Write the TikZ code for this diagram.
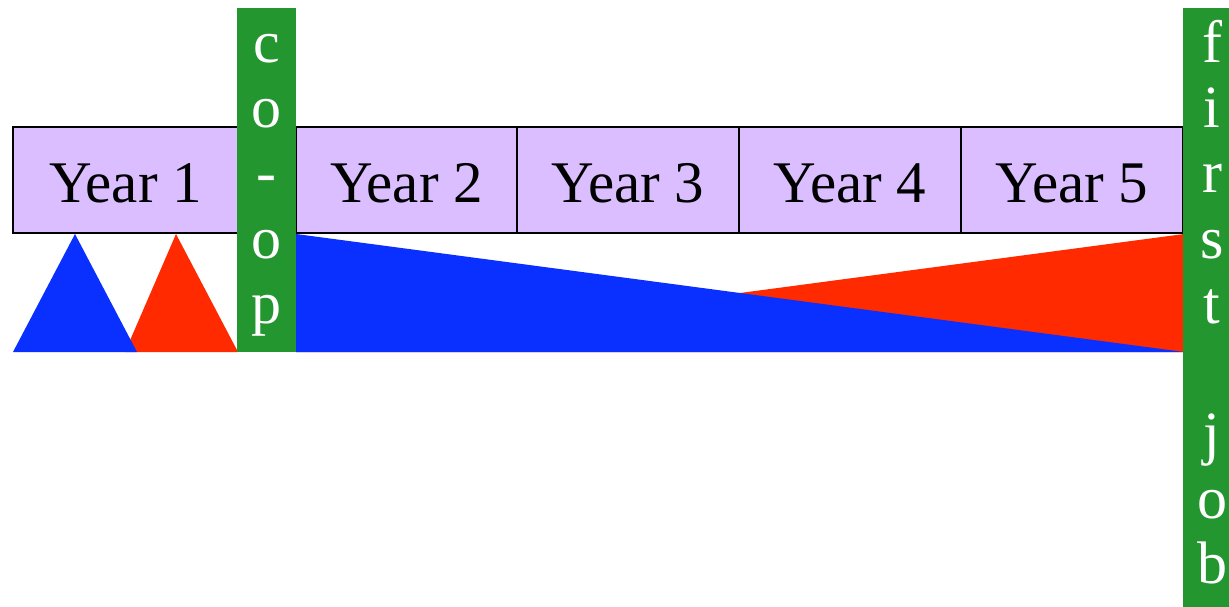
\documentclass[tikz,border=0pt]{standalone}
\usepackage{fontspec}
\setmainfont{Liberation Serif}
\definecolor{lav}{RGB}{218,190,255}
\definecolor{myblue}{RGB}{10,48,255}
\definecolor{myred}{RGB}{255,42,0}
\definecolor{mygreen}{RGB}{36,150,48}
\begin{document}
\begin{tikzpicture}[x=1pt,y=-1pt,
  yearbox/.style={draw=black, line width=2pt, fill=lav, minimum height=106pt,
    inner sep=0pt, text height=44pt, text depth=0pt, font=\fontsize{59}{65}\selectfont},
  greenbar/.style={fill=mygreen, draw=none, inner sep=0pt},
  letter/.style={anchor=base, text=white, inner sep=0pt, font=\fontsize{60}{65}\selectfont}]
\useasboundingbox (0,0) rectangle (1229,607);
\clip (0,0) rectangle (1229,607);
% year boxes
\node[yearbox, minimum width=225pt] (y1) at (125.5,180) {Year 1};
\node[yearbox, minimum width=221pt] (y2) at (406.5,180) {Year 2};
\node[yearbox, minimum width=222pt] (y3) at (628,180) {Year 3};
\node[yearbox, minimum width=222pt] (y4) at (850,180) {Year 4};
\node[yearbox, minimum width=222pt] (y5) at (1072,180) {Year 5};
% small triangles under year 1
\fill[myred] (176,234) -- (238,352) -- (125,352) -- cycle;
\fill[myblue] (75,234) -- (137,352) -- (13,352) -- cycle;
% big wedges
\fill[myred] (296,352) -- (1184,234) -- (1184,352) -- cycle;
\fill[myblue] (296,234) -- (1184,352) -- (296,352) -- cycle;
% green bars
\node[greenbar, minimum width=59pt, minimum height=344pt] (coop) at (266.5,180) {};
\node[greenbar, minimum width=59pt, minimum height=599pt] (job) at (1212.5,307.5) {};
\foreach \ch/\k in {c/0,o/1,-/2,o/3,p/4}
  \node[letter] (coop\k) at (266.5,{63+65*\k}) {\ch};
\foreach \ch/\k in {f/0,i/1,r/2,s/3,t/4,j/6,o/7,b/8}
  \node[letter] (job\k) at (1212,{63+65*\k}) {\ch};
\end{tikzpicture}
\end{document}
